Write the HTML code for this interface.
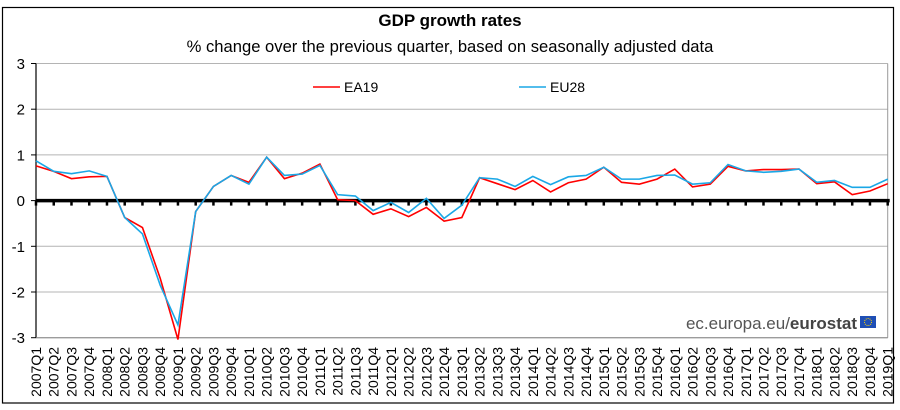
<!DOCTYPE html>
<html><head><meta charset="utf-8"><style>
body{margin:0;background:#fff;}
svg{display:block;font-family:"Liberation Sans",Arial,sans-serif;}
</style></head><body>
<svg id="chart" width="900" height="410" viewBox="0 0 900 410">
<rect x="2.5" y="7.5" width="891" height="395.5" fill="#fff" stroke="#000" stroke-width="1.2"/>
<text x="450" y="26" text-anchor="middle" font-size="17" font-weight="bold">GDP growth rates</text>
<text x="450" y="52" text-anchor="middle" font-size="16.6">% change over the previous quarter, based on seasonally adjusted data</text>
<g id="grid"></g>
<g id="series"></g>
<g id="xlabels"></g>
<g>
<line x1="313" y1="87" x2="340" y2="87" stroke="#ff0000" stroke-width="1.5"/>
<text x="344" y="92" font-size="14">EA19</text>
<line x1="519" y1="87" x2="546" y2="87" stroke="#1aa7e6" stroke-width="1.5"/>
<text x="550" y="92" font-size="14">EU28</text>
</g>
<g>
<text x="857" y="329" text-anchor="end" font-size="17" fill="#555">ec.europa.eu/<tspan font-weight="bold" fill="#444">eurostat</tspan></text>
<rect x="860" y="316" width="16" height="12" fill="#1f4fb5"/>
<circle cx="868" cy="322" r="3.5" fill="none" stroke="#ffd400" stroke-width="1" stroke-dasharray="1 1"/>
</g>
</svg>
<script>
const categories=["2007Q1","2007Q2","2007Q3","2007Q4","2008Q1","2008Q2","2008Q3","2008Q4","2009Q1","2009Q2","2009Q3","2009Q4","2010Q1","2010Q2","2010Q3","2010Q4","2011Q1","2011Q2","2011Q3","2011Q4","2012Q1","2012Q2","2012Q3","2012Q4","2013Q1","2013Q2","2013Q3","2013Q4","2014Q1","2014Q2","2014Q3","2014Q4","2015Q1","2015Q2","2015Q3","2015Q4","2016Q1","2016Q2","2016Q3","2016Q4","2017Q1","2017Q2","2017Q3","2017Q4","2018Q1","2018Q2","2018Q3","2018Q4","2019Q1"];
const ea19=[0.76,0.64,0.48,0.52,0.53,-0.37,-0.59,-1.7,-3.04,-0.24,0.31,0.55,0.4,0.95,0.48,0.6,0.8,0.02,0.0,-0.3,-0.18,-0.35,-0.15,-0.45,-0.37,0.5,0.37,0.24,0.44,0.19,0.39,0.47,0.73,0.4,0.36,0.47,0.69,0.3,0.36,0.75,0.65,0.68,0.68,0.69,0.37,0.41,0.13,0.21,0.37];
const eu28=[0.87,0.64,0.59,0.65,0.53,-0.37,-0.73,-1.85,-2.72,-0.24,0.31,0.55,0.36,0.95,0.55,0.58,0.77,0.13,0.1,-0.22,-0.04,-0.26,0.05,-0.39,-0.1,0.5,0.47,0.31,0.53,0.35,0.52,0.55,0.73,0.47,0.47,0.55,0.56,0.36,0.39,0.79,0.65,0.62,0.64,0.69,0.4,0.44,0.29,0.29,0.47];
const yTicks=[3,2,1,0,-1,-2,-3];
const NS="http://www.w3.org/2000/svg";
const L=36,R=887.7,T=63.5,B=337.7,yMin=-3,yMax=3;
function xs(i){return L+i*(R-L)/(categories.length-1);}
function ys(v){return B-(v-yMin)*(B-T)/(yMax-yMin);}
function mk(tag,attrs,parent){const e=document.createElementNS(NS,tag);for(const k in attrs)e.setAttribute(k,attrs[k]);parent.appendChild(e);return e;}
const grid=document.getElementById('grid');
yTicks.forEach(v=>{
  const y=ys(v);
  if(v!==0){const g=mk('line',{x1:L,x2:R,y1:y,y2:y,stroke:'#b4b4b4','stroke-width':1},grid);
  
  }
  const t=mk('line',{x1:L-5,x2:L,y1:y,y2:y,stroke:'#000','stroke-width':1},grid);
  
  
  const lb=mk('text',{x:25,y:y+5.5,'text-anchor':'end','font-size':15},grid);
  lb.textContent=v;
  
  
});
const ya=mk('line',{x1:L,x2:L,y1:T,y2:B,stroke:'#000','stroke-width':1.2},grid);


const rb=mk('line',{x1:R,x2:R,y1:T,y2:B,stroke:'#999','stroke-width':1},grid);


const bb=mk('line',{x1:L,x2:R,y1:B,y2:B,stroke:'#888','stroke-width':1},grid);


const z=mk('line',{x1:L,x2:R+2,y1:ys(0),y2:ys(0),stroke:'#000','stroke-width':3.5},grid);


const xl=document.getElementById('xlabels');
categories.forEach((c,i)=>{
  const x=xs(i);
  const tk=mk('line',{x1:x,x2:x,y1:ys(0),y2:ys(0)+5,stroke:'#000','stroke-width':2.5},grid);
  
  
  const t=mk('text',{x:0,y:0,'text-anchor':'end','font-size':14,transform:'translate('+(x+5)+',347) rotate(-90)'},xl);
  t.textContent=c;
  
  
});
const ser=document.getElementById('series');
function line(vals,color,name){
  const p=mk('polyline',{points:vals.map((v,i)=>xs(i)+','+ys(v)).join(' '),fill:'none',stroke:color,'stroke-width':1.6,'stroke-linejoin':'miter'},ser);
  
  
}
line(ea19,'#ff0000','series-ea19');
line(eu28,'#1aa7e6','series-eu28');
</script>
</body></html>
